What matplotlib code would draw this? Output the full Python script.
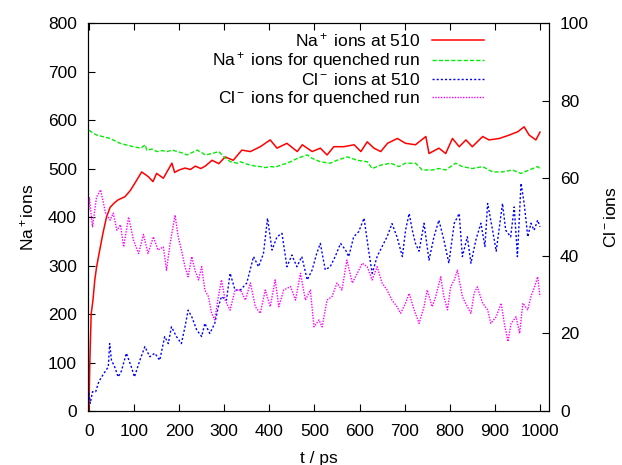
import matplotlib
matplotlib.use("Agg")
import matplotlib.pyplot as plt

# values
t_na510 = [0, 2, 5, 9, 13, 17, 24, 31, 39, 47, 55, 64, 80, 92, 102, 117, 132, 142, 150, 165,
           184, 190, 200, 213, 225, 236, 248, 258, 273, 288, 302, 320, 339, 358, 380, 402, 417, 439, 462, 473,
           495, 513, 528, 543, 565, 588, 603, 617, 632, 647, 662, 684, 702, 724, 747, 754, 776, 791, 806, 821,
           836, 850, 873, 887, 910, 932, 951, 965, 976, 991, 1000]
na510 = [0, 100, 200, 229, 270, 297, 332, 366, 400, 420, 428, 435, 442, 455, 470, 493, 483, 473, 490, 480,
         511, 492, 497, 501, 498, 505, 500, 505, 517, 510, 524, 517, 538, 535, 545, 559, 542, 552, 535, 549,
         535, 542, 528, 545, 545, 549, 535, 555, 542, 535, 552, 562, 552, 549, 566, 531, 542, 531, 562, 545,
         559, 545, 566, 559, 562, 569, 576, 586, 569, 559, 575]

t_naq = [0, 8, 17, 30, 47, 58, 69, 85, 99, 115, 125, 128, 140, 151, 162, 173, 185, 196, 207, 218,
         229, 240, 250, 258, 273, 288, 299, 314, 329, 336, 347, 358, 369, 380, 391, 402, 414, 425, 436, 447,
         462, 484, 495, 513, 535, 550, 573, 595, 617, 628, 647, 669, 687, 702, 724, 739, 761, 776, 791, 813,
         828, 850, 873, 895, 917, 939, 958, 976, 995, 1000]
naq = [579, 574, 569, 566, 562, 557, 552, 548, 545, 542, 549, 538, 540, 535, 537, 535, 538, 535, 532, 528,
       533, 538, 533, 528, 531, 535, 524, 514, 511, 514, 510, 507, 505, 504, 502, 504, 503, 507, 510, 514,
       521, 528, 521, 514, 511, 517, 524, 517, 514, 500, 507, 511, 504, 511, 511, 497, 497, 500, 497, 511,
       504, 500, 504, 493, 493, 497, 490, 497, 504, 500]

t_cl510 = [0, 3, 8, 15, 22, 32, 43, 46, 50, 57, 65, 72, 83, 94, 101, 113, 124, 135, 146, 157,
           168, 176, 183, 194, 205, 213, 220, 228, 239, 250, 257, 268, 279, 287, 294, 305, 313, 324, 336, 350,
           365, 376, 387, 396, 406, 417, 428, 439, 450, 461, 472, 484, 495, 505, 513, 524, 535, 546, 558, 569,
           576, 587, 598, 610, 620, 628, 639, 650, 661, 672, 683, 695, 702, 710, 717, 724, 732, 743, 754, 765,
           776, 787, 798, 810, 821, 828, 839, 847, 858, 869, 878, 884, 895, 903, 917, 924, 935, 943, 950, 958,
           965, 973, 980, 987, 995, 1000]
cl510 = [4.6, 2, 5, 5, 7.6, 9.5, 11.4, 17.4, 13.1, 11.4, 8.8, 10.3, 14.9, 11.4, 8.8, 13.1, 16.6, 14, 14.9, 13.1,
         19.2, 17.4, 21.7, 19.2, 17.4, 21.7, 26, 24.3, 20.9, 19.2, 22.6, 20, 22.6, 26.9, 29.5, 28.6, 35.5, 31.2, 31.2, 33,
         39.8, 37.2, 40.6, 49.7, 41.5, 44.9, 45.8, 37.2, 40.2, 37.2, 39.8, 33.8, 36.4, 40.6, 43.2, 36.4, 37.2, 39.8, 43.2, 41.5,
         39.8, 44.9, 46.2, 49.7, 41.5, 35.5, 39.8, 42.4, 44.9, 48.3, 44.9, 39.8, 46.6, 50.9, 46.6, 43.2, 41.2, 48.4, 38.9, 44.9,
         49.2, 44.1, 38.1, 48.4, 50.9, 39.8, 44.9, 38.1, 44.1, 48.4, 42.4, 53.5, 46.6, 41.2, 53.5, 46.6, 44.9, 52.6, 39.8, 58.7,
         53.5, 44.9, 48.4, 46.6, 49.2, 47.5]

t_clq = [0, 1, 8, 13, 17, 26, 37, 47, 54, 62, 70, 77, 88, 99, 110, 121, 131, 143, 153, 165,
         172, 180, 191, 198, 205, 213, 220, 228, 235, 243, 250, 257, 265, 272, 279, 287, 294, 302, 313, 324,
         336, 347, 358, 369, 380, 391, 402, 413, 421, 432, 447, 458, 469, 480, 491, 499, 510, 517, 528, 539,
         550, 561, 572, 584, 595, 606, 617, 628, 639, 650, 661, 672, 683, 691, 702, 710, 721, 732, 743, 750,
         761, 769, 780, 787, 795, 802, 810, 817, 828, 835, 847, 854, 861, 873, 884, 891, 903, 914, 921, 929,
         936, 947, 955, 962, 973, 980, 988, 995, 1000]
clq = [51.8, 55, 47.5, 51.8, 55.2, 57, 51, 49.2, 51, 46.6, 48, 42.3, 50, 44, 40.6, 45.5, 40.6, 44.9, 41.5, 42.3,
       36.3, 43.2, 50.5, 44.9, 41.5, 37.2, 34.6, 39.8, 36.3, 33.8, 37.2, 31.2, 29.5, 25.2, 23.5, 29.5, 33.8, 28.6, 26, 31.2,
       31.2, 28.6, 33, 26.9, 25.2, 31.2, 26.9, 33.8, 26.9, 31.2, 32.1, 28.6, 35.5, 28.6, 31.2, 21.7, 23.5, 21.7, 28.6, 29.5,
       33, 31.2, 38.9, 33, 35.5, 38.1, 37.2, 33.8, 37.2, 33, 31.2, 28.6, 26.9, 25.2, 27.8, 30.3, 26.1, 22.6, 26.9, 31.2,
       26.9, 29.5, 34.6, 29.5, 26.1, 32, 33.8, 36.3, 29.5, 27.8, 25.2, 30.3, 32, 27.8, 26.1, 22.6, 24.3, 27.8, 22.6, 17.9,
       22.6, 24.3, 20, 27.8, 26.1, 29.5, 32, 34.6, 29.5]

plt.rcParams['font.family'] = ['Liberation Sans', 'DejaVu Sans']
plt.rcParams['mathtext.fontset'] = 'custom'
plt.rcParams['mathtext.rm'] = 'Liberation Sans'
plt.rcParams['mathtext.it'] = 'Liberation Sans:italic'
plt.rcParams['font.size'] = 12.5

fig = plt.figure(figsize=(6.22, 4.65), dpi=100)
ax1 = fig.add_axes([0.1415, 0.116, 0.7411, 0.8345])
ax2 = ax1.twinx()

l1, = ax1.plot(t_na510, na510, color='#ff0000', lw=1.1, label='Na$^+$ ions at 510')
l2, = ax1.plot(t_naq, naq, color='#00ee00', lw=1.0, ls=(0, (3, 1.5)), label='Na$^+$ ions for quenched run')
l3, = ax2.plot(t_cl510, cl510, color='#0000ff', lw=1.0, ls=(0, (1.5, 1.5)), label='Cl$^-$ ions at 510')
l4, = ax2.plot(t_clq, clq, color='#ff00ff', lw=1.0, ls=(0, (1, 1)), label='Cl$^-$ ions for quenched run')

ax1.set_xlim(-2, 1020)
ax1.set_ylim(0, 800)
ax2.set_ylim(0, 100)
ax1.set_xticks(range(0, 1001, 100))
ax1.set_yticks(range(0, 801, 100))
ax2.set_yticks(range(0, 101, 20))

ax1.tick_params(axis='x', direction='in', length=5, top=True, pad=9)
ax1.tick_params(axis='y', direction='in', length=5, right=False, pad=8)
ax2.tick_params(axis='y', direction='in', length=5, pad=8)

ax1.set_xlabel('t / ps', labelpad=9)
ax1.set_ylabel('Na$^+$ions', labelpad=8)
ax2.set_ylabel('Cl$^-$ions', labelpad=10)

leg = ax1.legend(handles=[l1, l2, l3, l4], loc='upper right', bbox_to_anchor=(0.86, 0.978),
                 frameon=False, markerfirst=False, handlelength=3.0, handletextpad=0.7,
                 labelspacing=0.05, borderpad=0, borderaxespad=0)

fig.savefig('out.png', dpi=100)
